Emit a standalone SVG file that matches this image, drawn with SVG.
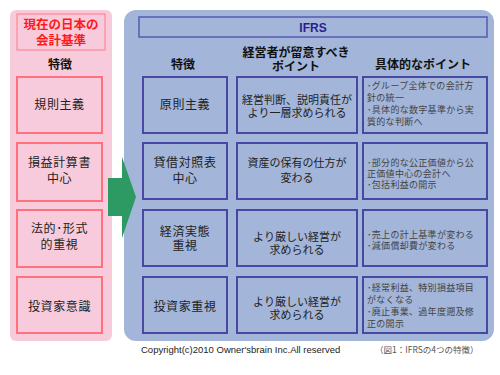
<svg xmlns="http://www.w3.org/2000/svg" width="500" height="375" viewBox="0 0 500 375">
<style>
.jp{font-family:"Noto Sans CJK JP","Noto Sans",sans-serif;}
.t{font-size:12px;fill:#222;text-anchor:middle;letter-spacing:0.6px;}
.m{font-size:11px;fill:#222;text-anchor:middle;}
.h{font-size:12px;font-weight:bold;fill:#111;text-anchor:middle;}
.s{font-size:9px;fill:#444;letter-spacing:0.3px;}
.pb{fill:#f7cbdc;stroke:#ff6f7c;stroke-width:2;}
.bb{fill:#a3b5d8;stroke:#4848a4;stroke-width:2;}
</style>
<rect width="500" height="375" fill="#fff"/>
<g id="left-panel">
<rect x="10" y="10" width="102" height="331" rx="6" fill="#f7cbdc"/>
<rect x="17" y="14" width="88" height="36" fill="none" stroke="#ff7a86" stroke-width="1"/>
<text class="jp" x="61" y="29" font-size="12.5" font-weight="bold" fill="#ff1a1a" text-anchor="middle">現在の日本の</text>
<text class="jp" x="61" y="45" font-size="12.5" font-weight="bold" fill="#ff1a1a" text-anchor="middle">会計基準</text>
<text class="jp h" x="60" y="69">特徴</text>
</g>
<g id="l1"><rect class="pb" x="17" y="77" width="85" height="56"/><text class="jp t" x="59.5" y="109">規則主義</text></g>
<g id="l2"><rect class="pb" x="17" y="143" width="85" height="58"/><text class="jp t" x="59.5" y="167">損益計算書</text><text class="jp t" x="59.5" y="183">中心</text></g>
<g id="l3"><rect class="pb" x="17" y="210" width="85" height="57"/><text class="jp t" x="59.5" y="233">法的･形式</text><text class="jp t" x="59.5" y="249">的重視</text></g>
<g id="l4"><rect class="pb" x="17" y="277" width="85" height="56"/><text class="jp t" x="59.5" y="311">投資家意識</text></g>
<g id="right-panel">
<rect x="124" y="10" width="370" height="331" rx="12" fill="#a3b5d8"/>
<rect x="139" y="17" width="348" height="20" fill="none" stroke="#5a5ab0" stroke-width="1.5"/>
<text x="313" y="32" font-family="Liberation Sans,Arial,sans-serif" font-size="12" font-weight="bold" fill="#2b1f8c" text-anchor="middle">IFRS</text>
<text class="jp h" x="183" y="69">特徴</text>
<text class="jp h" x="296" y="57">経営者が留意すべき</text>
<text class="jp h" x="296" y="71">ポイント</text>
<text class="jp h" x="423" y="69">具体的なポイント</text>
</g>
<g id="r1">
<rect class="bb" x="143" y="77" width="84" height="56"/><text class="jp t" x="185" y="109">原則主義</text>
<rect class="bb" x="237" y="77" width="120" height="56"/><text class="jp m" x="297" y="104">経営判断、説明責任が</text><text class="jp m" x="297" y="117">より一層求められる</text>
<rect class="bb" x="363" y="77" width="124" height="56"/>
<text class="jp s" x="367" y="89">･グループ全体での会計方</text><text class="jp s" x="367" y="101">針の統一</text><text class="jp s" x="367" y="113">･具体的な数字基準から実</text><text class="jp s" x="367" y="125">質的な判断へ</text>
</g>
<g id="r2">
<rect class="bb" x="143" y="143" width="84" height="56"/><text class="jp t" x="185" y="167">貸借対照表</text><text class="jp t" x="185" y="183">中心</text>
<rect class="bb" x="237" y="143" width="120" height="56"/><text class="jp m" x="297" y="167">資産の保有の仕方が</text><text class="jp m" x="297" y="182">変わる</text>
<rect class="bb" x="363" y="143" width="124" height="56"/>
<text class="jp s" x="367" y="166">･部分的な公正価値から公</text><text class="jp s" x="367" y="177">正価値中心の会計へ</text><text class="jp s" x="367" y="188">･包括利益の開示</text>
</g>
<g id="r3">
<rect class="bb" x="143" y="210" width="84" height="56"/><text class="jp t" x="185" y="236">経済実態</text><text class="jp t" x="185" y="250">重視</text>
<rect class="bb" x="237" y="210" width="120" height="56"/><text class="jp m" x="297" y="241">より厳しい経営が</text><text class="jp m" x="297" y="254">求められる</text>
<rect class="bb" x="363" y="210" width="124" height="56"/>
<text class="jp s" x="367" y="238">･売上の計上基準が変わる</text><text class="jp s" x="367" y="249">･減価償却費が変わる</text>
</g>
<g id="r4">
<rect class="bb" x="143" y="277" width="84" height="56"/><text class="jp t" x="185" y="311">投資家重視</text>
<rect class="bb" x="237" y="277" width="120" height="56"/><text class="jp m" x="297" y="306">より厳しい経営が</text><text class="jp m" x="297" y="319">求められる</text>
<rect class="bb" x="363" y="277" width="124" height="56"/>
<text class="jp s" x="367" y="291">･経常利益、特別損益項目</text><text class="jp s" x="367" y="303">がなくなる</text><text class="jp s" x="367" y="315">･廃止事業、過年度遡及修</text><text class="jp s" x="367" y="327">正の開示</text>
</g>
<g id="connectors">
<polygon points="108,178 122,178 122,157 136,197 122,238 122,216 108,216" fill="#2e9a63"/>
</g>
<g id="footer">
<text x="141" y="353" font-family="Liberation Sans,Arial,sans-serif" font-size="9.5" fill="#222">Copyright(c)2010 Owner'sbrain Inc.All reserved</text>
<text class="jp" x="375" y="353" font-size="8.5" fill="#555">（図1：IFRSの4つの特徴）</text>
</g>
</svg>
